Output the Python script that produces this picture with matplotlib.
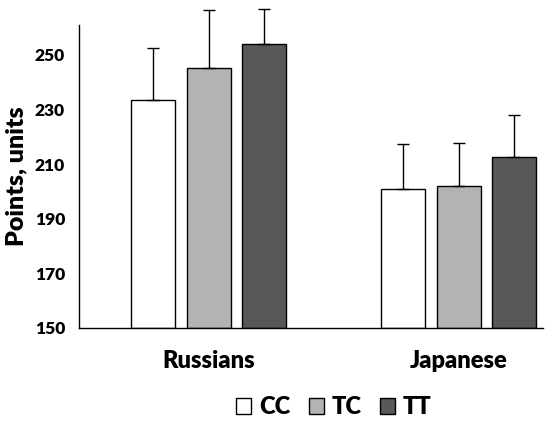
import numpy as np
import matplotlib
matplotlib.use("Agg")
import matplotlib.pyplot as plt
from matplotlib.patches import Patch

groups = ["Russians", "Japanese"]
genotypes = ["CC", "TC", "TT"]
means = {"CC": [233.5, 200.9], "TC": [245.4, 201.9], "TT": [254.0, 212.7]}
errs = {"CC": [19.0, 16.4], "TC": [21.0, 15.7], "TT": [13.0, 15.4]}
colors = {"CC": "#ffffff", "TC": "#b3b3b3", "TT": "#585858"}

plt.rcParams["font.family"] = ["Lato", "DejaVu Sans"]
plt.rcParams["font.weight"] = "heavy"

fig = plt.figure(figsize=(5.5, 4.23), dpi=100)
ax = fig.add_axes([0.1436, 0.2246, 0.8434, 0.7164])

x = np.arange(len(groups))
offset = 0.222
width = 0.176
for i, g in enumerate(genotypes):
    pos = x + (i - 1) * offset
    ax.bar(pos, np.array(means[g]) - 150, width, bottom=150, color=colors[g],
           edgecolor="black", linewidth=1.0, zorder=2)
    ax.errorbar(pos, means[g], yerr=[np.zeros(2), errs[g]], fmt="none",
                ecolor="black", elinewidth=1.0, capsize=4, capthick=1.0,
                clip_on=False, zorder=3)

ax.set_xlim(-0.52, 1.336)
ax.set_ylim(150, 261)
ax.set_yticks(range(150, 251, 20))
ax.set_xticks(x)
ax.set_xticklabels(groups, fontsize=17, fontweight="heavy")
ax.tick_params(axis="x", length=0, pad=15.5)
ax.tick_params(axis="y", length=0, pad=10, labelsize=12.5)
for lab in ax.get_yticklabels():
    lab.set_fontweight("heavy")
ax.spines["top"].set_visible(False)
ax.spines["right"].set_visible(False)
ax.spines["left"].set_linewidth(1.0)
ax.spines["bottom"].set_linewidth(1.0)
ax.set_ylabel("Points, units", fontsize=18, fontweight="heavy", labelpad=5)

handles = [Patch(facecolor=colors[g], edgecolor="black", linewidth=1.0) for g in genotypes]
fig.legend(handles, genotypes, loc="center", bbox_to_anchor=(334 / 550, 1 - 407 / 423),
           ncol=3, frameon=False, prop={"size": 17, "weight": "heavy"},
           handlelength=0.64, handleheight=0.64, handletextpad=0.34, columnspacing=0.76)

fig.savefig("out.png", dpi=100)
